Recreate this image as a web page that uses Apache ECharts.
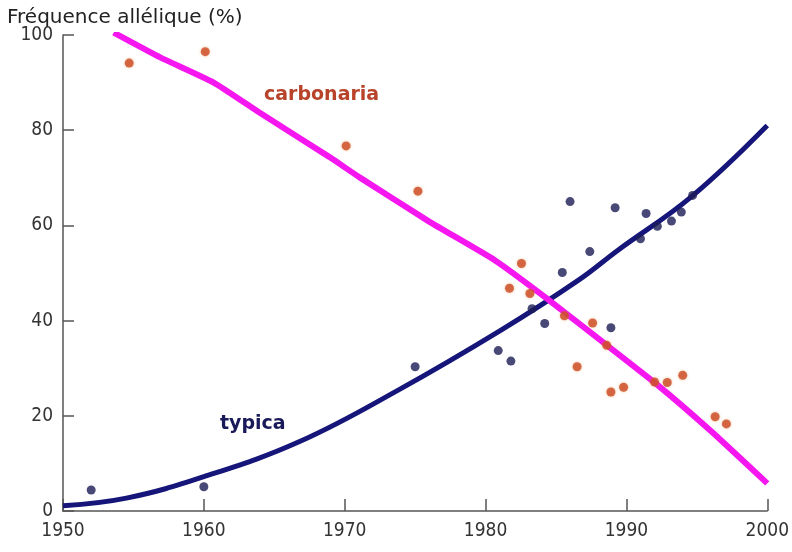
<!DOCTYPE html>
<html><head><meta charset="utf-8">
<script src="https://cdn.jsdelivr.net/npm/echarts@6/dist/echarts.min.js"></script>
<style>html,body{margin:0;padding:0;background:#fff}#c{width:792px;height:552px}</style>
</head><body><div id="c"></div>
<script>
const xTicks = [1950, 1960, 1970, 1980, 1990, 2000];
const yTicks = [0, 20, 40, 60, 80, 100];
const carbonariaCurve = [[1953.6,100.5],[1956.9,95.3],[1960.7,90.0],[1964,83.6],[1968.9,74.4],[1971.0,70.2],[1976,60.8],[1980.65,52.7],[1984.2,45.0],[1988.45,35.2],[1992.2,26.5],[1996,16.8],[2000,5.8]];
const typicaCurve = [[1950,1.1],[1954.5,2.7],[1960,7.2],[1966.8,14.6],[1973.8,25.4],[1981.1,38.0],[1986.6,48.5],[1989.4,54.8],[1994.6,66.0],[2000,81.0]];
const carbonariaPts = [[1954.7,94.1],[1960.1,96.5],[1970.1,76.7],[1975.2,67.2],[1982.55,52.0],[1981.7,46.8],[1983.15,45.7],[1985.6,41.0],[1987.6,39.5],[1986.5,30.3],[1988.6,34.8],[1988.9,25.0],[1989.8,26.0],[1992.0,27.1],[1992.9,27.0],[1994.0,28.5],[1996.3,19.8],[1997.1,18.3]];
const typicaPts = [[1952.0,4.4],[1960.0,5.1],[1975.0,30.3],[1980.9,33.7],[1981.8,31.5],[1983.3,42.5],[1984.2,39.4],[1985.45,50.1],[1986.0,65.0],[1987.4,54.5],[1988.9,38.5],[1989.2,63.7],[1991.0,57.2],[1991.4,62.5],[1992.2,59.8],[1993.2,60.9],[1993.9,62.8],[1994.7,66.3]];
const yTitle = 'Fréquence allélique (%)';
const labelCarb = 'carbonaria';
const labelTyp = 'typica';

const chart = echarts.init(document.getElementById('c'));
const axisCol = '#555';
const tickFont = 'DejaVu Sans Condensed, DejaVu Sans';
chart.setOption({
  animation: false,
  backgroundColor: '#fff',
  grid: {left: 63, right: 22, top: 35, bottom: 41},
  xAxis: {
    type: 'value', min: 1950, max: 2000, interval: 10,
    axisLine: {show: true, onZero: false, lineStyle: {color: axisCol, width: 1.5}},
    axisTick: {show: true, inside: true, length: 12, lineStyle: {color: axisCol, width: 1.5}},
    splitLine: {show: false},
    axisLabel: {color: '#333', fontSize: 19, fontFamily: tickFont, margin: 11,
      formatter: v => xTicks.includes(v) ? String(v) : ''}
  },
  yAxis: {
    type: 'value', min: 0, max: 100, interval: 20,
    axisLine: {show: true, lineStyle: {color: axisCol, width: 1.5}},
    axisTick: {show: true, inside: true, length: 11, lineStyle: {color: axisCol, width: 1.5}},
    splitLine: {show: false},
    axisLabel: {color: '#333', fontSize: 19, fontFamily: tickFont, margin: 10,
      formatter: v => yTicks.includes(v) ? String(v) : ''}
  },
  graphic: [
    {type: 'text', left: 7, top: 8, style: {text: yTitle, fontSize: 20, fontFamily: 'DejaVu Sans', fill: '#222'}},
    {type: 'text', left: 264, top: 86, style: {text: labelCarb, fontSize: 19, fontWeight: 'bold', fontFamily: 'DejaVu Sans', fill: '#b8432a'}},
    {type: 'text', left: 220, top: 415, style: {text: labelTyp, fontSize: 19, fontWeight: 'bold', fontFamily: 'DejaVu Sans', fill: '#1a1a5a'}}
  ],
  series: [
    {type: 'line', data: typicaCurve, smooth: 0.4, showSymbol: false, lineStyle: {color: '#16167a', width: 5}, z: 2},
    {type: 'line', data: carbonariaCurve, smooth: 0.15, showSymbol: false, lineStyle: {color: '#f516f0', width: 6}, z: 3},
    {type: 'scatter', data: typicaPts, symbolSize: 9, itemStyle: {color: '#1b1b55'}, z: 4},
    {type: 'scatter', data: carbonariaPts, symbolSize: 9, itemStyle: {color: '#cc4a26', shadowBlur: 3, shadowColor: 'rgba(230,140,60,0.6)'}, z: 4}
  ]
});
</script></body></html>
